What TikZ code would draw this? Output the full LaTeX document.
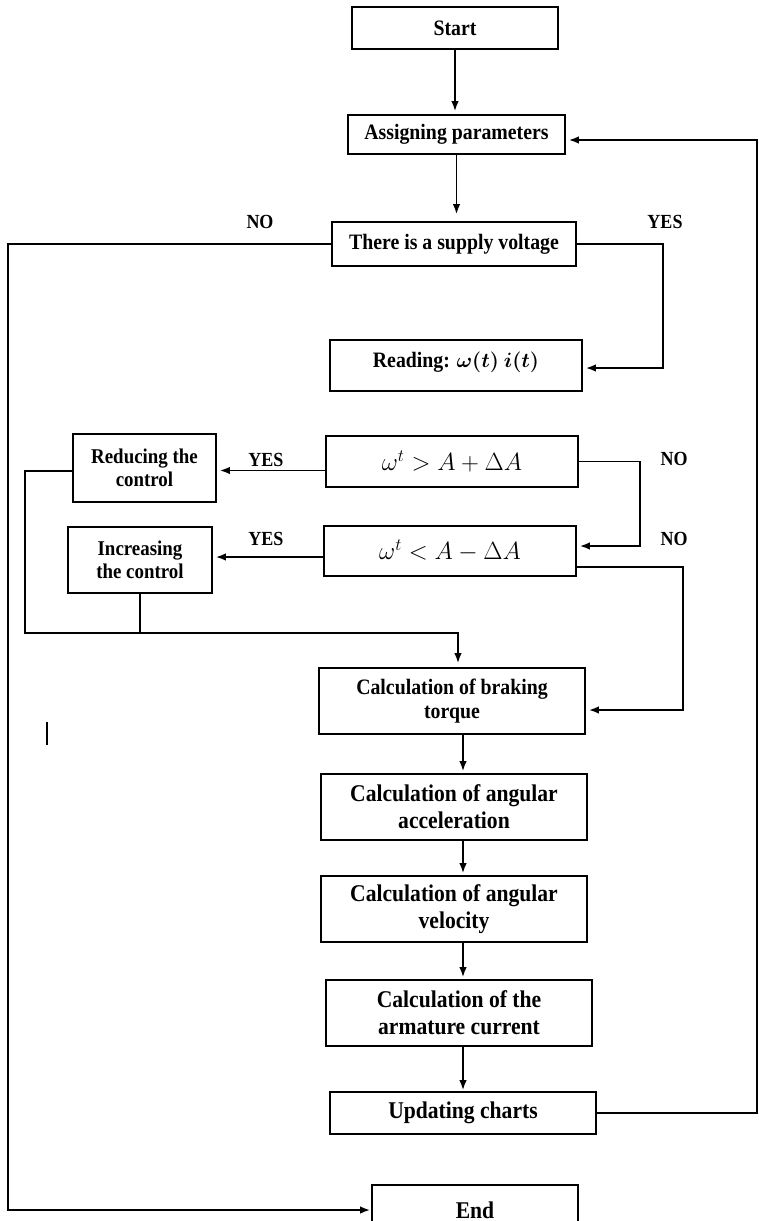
\documentclass[tikz,border=0pt]{standalone}
\usepackage{fontspec}
\setmainfont{Liberation Serif}[FakeStretch=0.9]
\usetikzlibrary{arrows.meta,calc}
\begin{document}
\begin{tikzpicture}[x=1pt,y=-1pt,
  box/.style={draw, line width=1.7pt, align=center, inner sep=0pt,
    font=\bfseries\fontsize{22}{23}\selectfont},
  bigbox/.style={box, font=\bfseries\fontsize{24}{27}\selectfont},
  mathbox/.style={box, font=\fontsize{24}{28}\selectfont},
  lab/.style={font=\bfseries\fontsize{20}{22}\selectfont, inner sep=0pt},
  conn/.style={line width=1.8pt},
  arr/.style={conn, -{Latex[length=10pt,width=7.5pt]}, shorten >=3pt}]
\useasboundingbox (0,0) rectangle (759,1221);
\fill[white] (0,0) rectangle (759,1221);

% boxes
\node[box, minimum width=206pt, minimum height=42pt] (start) at (455,28) {Start};
\node[box, minimum width=217pt, minimum height=39pt] (assign) at (456.5,134.5) {Assigning parameters};
\node[box, minimum width=244pt, minimum height=44pt] (supply) at (454,244) {There is a supply voltage};
\node[box, minimum width=252pt, minimum height=51pt] (reading) at (456,365.5) {Reading: {\boldmath$\omega(t)\ i(t)$}\rule[-12pt]{0pt}{0pt}};
\node[box, font=\bfseries\fontsize{21}{23}\selectfont, minimum width=143pt, minimum height=68pt] (reduce) at (144.5,468) {Reducing the\\control};
\node[box, font=\bfseries\fontsize{21}{23}\selectfont, minimum width=144pt, minimum height=66pt] (incr) at (140,560) {Increasing\\the control};
\node[mathbox, minimum width=252pt, minimum height=51pt] (gt) at (452,461.5) {$\omega^t > A + \Delta A$};
\node[mathbox, minimum width=252pt, minimum height=50pt] (lt) at (450,551) {$\omega^t < A - \Delta A$};
\node[box, font=\bfseries\fontsize{22}{24}\selectfont, minimum width=266pt, minimum height=66pt] (brake) at (452,701) {Calculation of braking\\torque};
\node[bigbox, minimum width=266pt, minimum height=66pt] (accel) at (454,807) {Calculation of angular\\acceleration};
\node[bigbox, minimum width=266pt, minimum height=66pt] (vel) at (454,909) {Calculation of angular\\velocity};
\node[bigbox, minimum width=266pt, minimum height=66pt] (arm) at (459,1013) {Calculation of the\\armature current};
\node[bigbox, minimum width=266pt, minimum height=42pt] (upd) at (463,1113) {Updating charts};
\node[bigbox, minimum width=206pt, minimum height=50pt] (end) at (475,1210) {End};

% labels
\node[lab] (no1) at (260,222) {NO};
\node[lab] (yes1) at (665,222) {YES};
\node[lab] (yes2) at (266,460) {YES};
\node[lab] (yes3) at (266,539) {YES};
\node[lab] (no2) at (674,459) {NO};
\node[lab] (no3) at (674,539) {NO};

% helper coordinates
\coordinate (yesx) at (663,0);
\coordinate (nox) at (8,0);
\coordinate (rx) at (757,0);
\coordinate (nx1) at (640,0);
\coordinate (nx2) at (683,0);
\coordinate (lx) at (25,0);
\coordinate (jy) at (0,633);
\coordinate (bx) at (458,0);
\coordinate (cx) at (463,0);

% connectors
\draw[arr] (start.south) -- (start.south |- assign.north);
\draw[arr, shorten >=7pt] (assign.south) -- (assign.south |- supply.north);
\draw[arr] (supply.east) -- (supply.east -| yesx) |- ($(reading.east)+(0,2.5)$);
\draw[arr, shorten >=1pt] (supply.west) -- (supply.west -| nox) |- (end.west);
\draw[arr] (upd.east) -- (upd.east -| rx) |- ($(assign.east)+(0,5.5)$);

\coordinate (g1) at ($(gt.west)+(0,9)$);
\draw[arr] (g1) -- (g1 -| reduce.east);
\coordinate (l1) at ($(lt.west)+(0,6)$);
\draw[arr] (l1) -- (l1 -| incr.east);

\draw[arr] (gt.east) -- (gt.east -| nx1) |- ($(lt.east)+(0,-5)$);
\coordinate (l2) at ($(lt.east)+(0,16)$);
\draw[arr] (l2) -- (l2 -| nx2) |- ($(brake.east)+(0,9)$);

\coordinate (r1) at ($(reduce.west)+(0,3)$);
\draw[arr, shorten >=4pt] (r1) -- (r1 -| lx) -- (lx |- jy) -- (bx |- jy) -- (bx |- brake.north);
\draw[conn] (incr.south) -- (incr.south |- jy);

\draw[arr, shorten >=2pt] (brake.south -| cx) -- (accel.north -| cx);
\draw[arr, shorten >=2pt] (accel.south -| cx) -- (vel.north -| cx);
\draw[arr, shorten >=2pt] (vel.south -| cx) -- (arm.north -| cx);
\draw[arr, shorten >=1pt] (arm.south -| cx) -- (upd.north -| cx);

% stray mark
\draw[conn] (47,722) -- (47,745);
\end{tikzpicture}
\end{document}
